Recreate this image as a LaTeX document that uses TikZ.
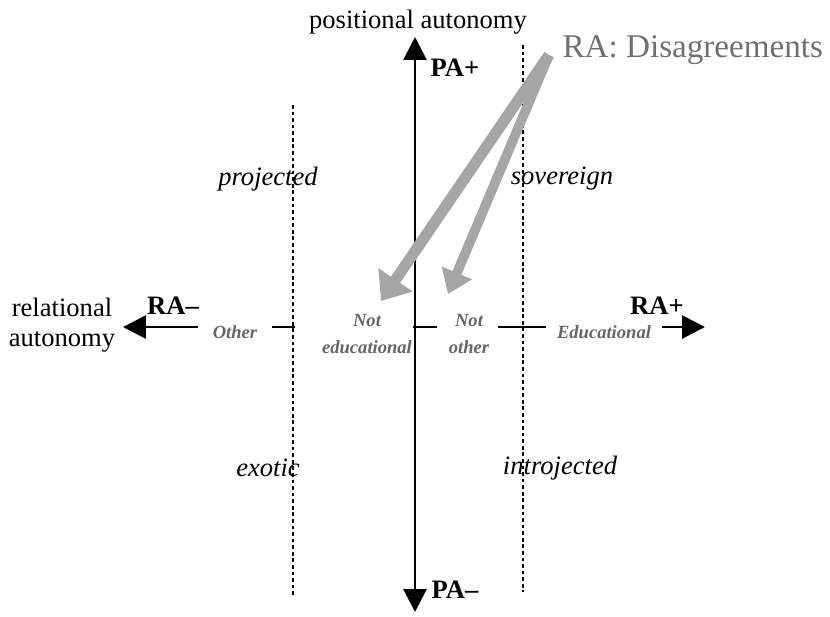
\documentclass[tikz,border=0pt]{standalone}
\usepackage{fontspec}
\setmainfont{Liberation Serif}
\usepackage{xcolor}
\definecolor{axisblack}{HTML}{000000}
\definecolor{valgray}{HTML}{666666}
\definecolor{notegray}{HTML}{707070}
\definecolor{blockgray}{HTML}{A6A6A6}
\usetikzlibrary{arrows.meta, positioning}
\tikzset{
  axisline/.style={axisblack, line width=1pt},
  axistip/.style={Triangle[length=8pt, width=8pt]},
  bound/.style={axisblack, line width=0.4pt, dash pattern=on 1.3pt off 1pt},
  axislabel/.style={font=\fontsize{9.3}{10.5}\selectfont, align=center, inner sep=1pt},
  pole/.style={font=\fontsize{9.3}{10.5}\selectfont\bfseries, inner sep=1pt},
  quadrant/.style={font=\fontsize{9.3}{10.5}\selectfont\itshape, inner sep=1pt},
  value/.style={font=\fontsize{6.5}{9.4}\selectfont\bfseries\itshape, valgray, align=center, inner sep=1pt},
  note/.style={font=\fontsize{11.6}{13}\selectfont, notegray, inner sep=0pt},
  blockarrow/.style={blockgray, line width=3.9pt, -{Triangle[length=9pt, width=14pt]}}
}
\begin{document}
\begin{tikzpicture}[x=0.35pt, y=-0.35pt]
\useasboundingbox (0,0) rectangle (830,616);

% axis end points
\coordinate (PAtop) at (415,37);
\coordinate (PAbot) at (415,612);
\coordinate (RAleft) at (123,327);
\coordinate (RAleftend) at (198,327);
\coordinate (RAright) at (705,327);
\coordinate (RArightend) at (662,327);

% positional autonomy (vertical)
\draw[axisline, {Triangle[length=8pt, width=8pt]}-{Triangle[length=8pt, width=8pt]}] (PAbot) -- (PAtop);
\node[axislabel] (PAname) at (418,22) {positional autonomy};
\node[pole] (PAplus) at (455,68) {PA+};
\node[pole] (PAminus) at (455,590) {PA–};

% relational autonomy (horizontal, broken by the values)
\draw[axisline, -{Triangle[length=8pt, width=8pt]}] (RAleftend) -- (RAleft);
\draw[axisline, -{Triangle[length=8pt, width=8pt]}] (RArightend) -- (RAright);
\draw[axisline] (272,327) -- (295,327);
\draw[axisline] (413,327) -- (437,327);
\draw[axisline] (498,327) -- (546,327);
\node[axislabel] (RAname) at (62,325) {relational\\autonomy};
\node[pole] (RAminus) at (173,306) {RA–};
\node[pole] (RAplus) at (657,306) {RA+};

% values on the RA axis
\node[value] (vother) at (235,332) {Other};
\node[value] (vnoted) at (367,334) {Not\\educational};
\node[value] (vnotother) at (469,334) {Not\\other};
\node[value] (veduc) at (604,332) {Educational};

% quadrant boundaries
\draw[bound] (293,105) -- (293,597);
\draw[bound] (523,45) -- (523,592);

% quadrants
\node[quadrant] (qproj) at (268,179) {projected};
\node[quadrant] (qsov) at (562,179) {sovereign};
\node[quadrant] (qexo) at (268,468) {exotic};
\node[quadrant] (qintro) at (560,468) {introjected};

% RA: Disagreements
\node[note, anchor=west] (disagree) at (562,50) {RA: Disagreements};
\coordinate (src) at (549,55);
\coordinate (tipA) at (381,301);
\coordinate (tipB) at (448,294);
\draw[blockarrow] (src) -- (tipA);
\draw[blockarrow, line width=3.4pt, -{Triangle[length=8pt, width=11pt]}] (src) -- (tipB);

\end{tikzpicture}
\end{document}
